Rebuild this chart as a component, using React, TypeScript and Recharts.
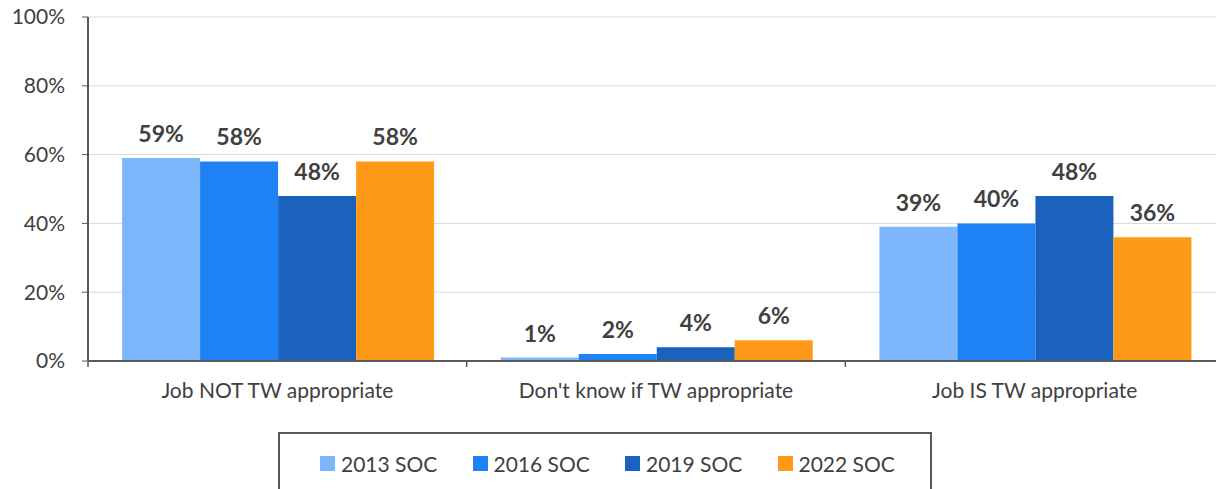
import { Bar, BarChart, CartesianGrid, LabelList, Legend, XAxis, YAxis } from "recharts";

const categories = ["Job NOT TW appropriate", "Don't know if TW appropriate", "Job IS TW appropriate"];
const soc2013 = [59, 1, 39];
const soc2016 = [58, 2, 40];
const soc2019 = [48, 4, 48];
const soc2022 = [58, 6, 36];
const yTicks = [0, 20, 40, 60, 80, 100];

const series = [
  { key: "s2013", name: "2013 SOC", color: "#7EB6FC" },
  { key: "s2016", name: "2016 SOC", color: "#1F82F4" },
  { key: "s2019", name: "2019 SOC", color: "#1A62BD" },
  { key: "s2022", name: "2022 SOC", color: "#FF9A18" },
];

const data = categories.map((c, i) => ({
  cat: c,
  s2013: soc2013[i],
  s2016: soc2016[i],
  s2019: soc2019[i],
  s2022: soc2022[i],
}));

const FONT = "Lato, 'Open Sans', sans-serif";
const TEXT = "#404040";
const AXIS = "#595959";

// category label plus tick marks at the category boundaries
function CatTick(props: any) {
  const { x, y, payload, index } = props;
  const half = payload?.offset ?? 189;
  return (
    <g>
      {index === 0 && <line x1={x - half} x2={x - half} y1={y} y2={y + 6} stroke={AXIS} strokeWidth={1.5} />}
      <line x1={x + half} x2={x + half} y1={y} y2={y + 6} stroke={AXIS} strokeWidth={1.5} />
      <text x={x} y={y + 32} textAnchor="middle" dominantBaseline="middle" fill={TEXT} fontSize={21} fontFamily={FONT}>
        {payload.value}
      </text>
    </g>
  );
}

function LegendBox({ payload }: any) {
  return (
    <div
      style={{
        boxSizing: "border-box",
        width: 654,
        height: 80,
        border: `2px solid ${AXIS}`,
        display: "flex",
        alignItems: "flex-start",
        paddingTop: 17,
        paddingLeft: 40,
        fontFamily: FONT,
        fontSize: 21,
        color: TEXT,
      }}
    >
      {(payload || []).map((p: any) => (
        <div key={p.value} style={{ display: "flex", alignItems: "center", width: 155 }}>
          <span style={{ width: 15, height: 15, background: p.color, marginRight: 6, display: "inline-block" }} />
          <span>{p.value}</span>
        </div>
      ))}
    </div>
  );
}

export default function App() {
  return (
    <div style={{ position: "fixed", left: 0, top: 0, width: 1216, height: 489, overflow: "hidden", background: "#fff" }}>
      <BarChart
        width={1240}
        height={520}
        data={data}
        margin={{ top: 17, right: 16, left: 0, bottom: 0 }}
        barCategoryGap="9%"
        barGap={0}
      >
        <CartesianGrid vertical={false} stroke="#d9d9d9" />
        <XAxis
          dataKey="cat"
          height={159}
          axisLine={{ stroke: AXIS, strokeWidth: 2 }}
          tickLine={false}
          tickSize={0}
          tickMargin={0}
          tick={<CatTick />}
          interval={0}
        />
        <YAxis
          width={88}
          domain={[0, 100]}
          ticks={yTicks}
          tickFormatter={(v: number) => `${v}%`}
          axisLine={{ stroke: AXIS, strokeWidth: 2 }}
          tickLine={{ stroke: AXIS }}
          tickSize={6}
          tickMargin={17}
          tick={{ fill: TEXT, fontSize: 21, fontFamily: FONT }}
        />
        <Legend
          layout="horizontal"
          verticalAlign="middle"
          align="center"
          content={<LegendBox />}
          wrapperStyle={{ left: 278, top: 432, width: 654 }}
        />
        {series.map((s) => (
          <Bar key={s.key} dataKey={s.key} name={s.name} fill={s.color} isAnimationActive={false}>
            <LabelList
              dataKey={s.key}
              position="top"
              offset={16}
              formatter={(v: any) => `${v}%`}
              style={{ fill: TEXT, fontSize: 23, fontWeight: 700, fontFamily: FONT }}
            />
          </Bar>
        ))}
      </BarChart>
    </div>
  );
}
